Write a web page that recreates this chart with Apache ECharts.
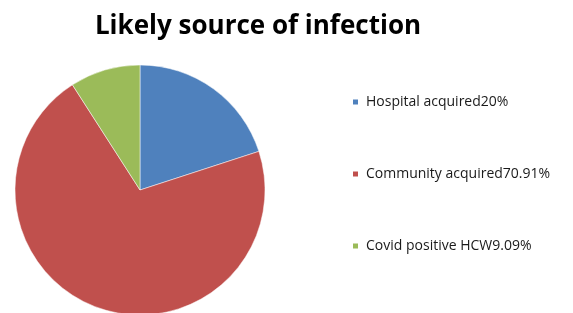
<!DOCTYPE html>
<html>
<head>
<meta charset="utf-8">
<script src="https://cdn.jsdelivr.net/npm/echarts@6/dist/echarts.min.js"></script>
<style>
  html, body { margin: 0; padding: 0; background: #fff; }
  #chart { width: 573px; height: 313px; }
</style>
</head>
<body>
<div id="chart"></div>
<script>
// categories and shares (%)
var categories = ['Hospital acquired', 'Community acquired', 'Covid positive HCW'];
var shares = [20, 70.91, 9.09];
var colors = ['#4F81BD', '#C0504D', '#9BBB59'];

var pieData = categories.map(function (name, i) {
    return { name: name, value: shares[i], itemStyle: { color: colors[i] } };
});

var myChart = echarts.init(document.getElementById('chart'));
var option = {
    backgroundColor: '#ffffff',
    animation: false,
    // 标题
    title: {
        text: 'Likely source of infection',
        left: 253,
        textAlign: 'center',
        top: 9,
        textStyle: {
            fontFamily: 'Open Sans',
            fontWeight: 'bold',
            fontSize: 26,
            color: '#000'
        }
    },
    // 图例，名称后面直接接百分比
    legend: {
        orient: 'vertical',
        left: 351,
        top: 95,
        padding: 0,
        itemWidth: 7,
        itemHeight: 7,
        itemGap: 58,
        icon: 'rect',
        selectedMode: false,
        textStyle: {
            fontFamily: 'Open Sans',
            fontSize: 14,
            color: '#1a1a1a',
            padding: [0, 0, 0, 2]
        },
        formatter: function (name) {
            var i = categories.indexOf(name);
            return name + shares[i] + '%';
        },
        data: categories
    },
    series: [{
        type: 'pie',
        center: [140, 190],
        radius: 125,
        startAngle: 90,
        clockwise: true,
        label: { show: false },
        labelLine: { show: false },
        itemStyle: { borderColor: '#fff', borderWidth: 0.5 },
        data: pieData
    }]
};
myChart.setOption(option);
</script>
</body>
</html>
